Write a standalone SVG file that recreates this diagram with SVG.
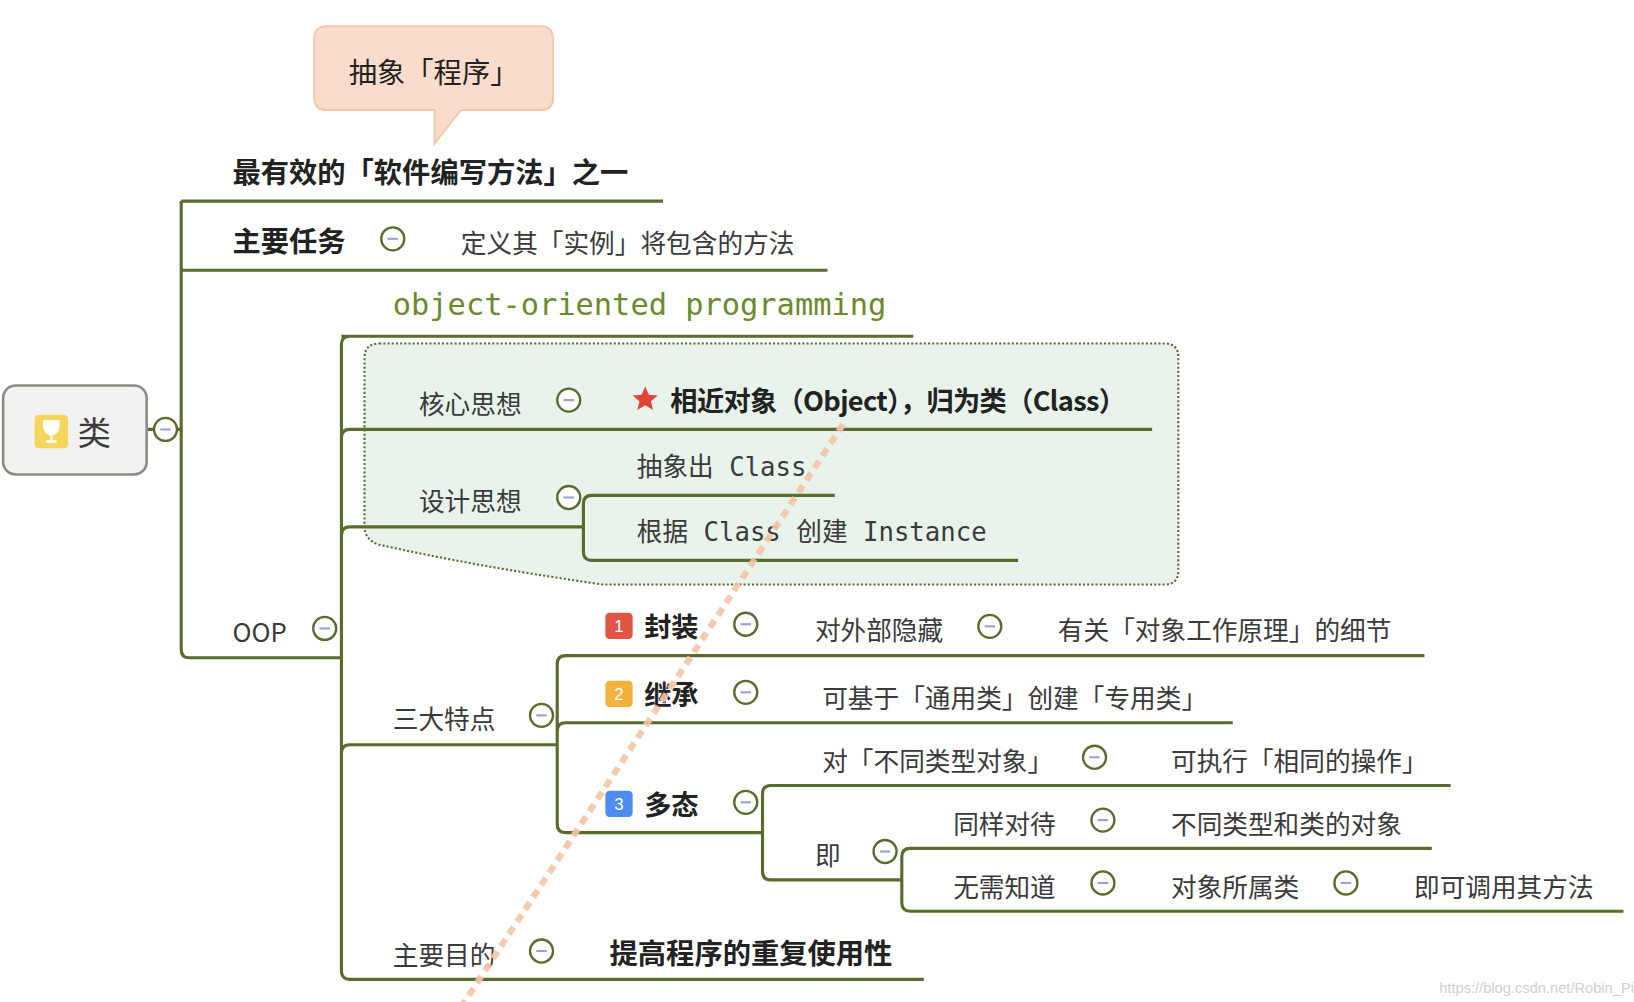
<svg xmlns="http://www.w3.org/2000/svg" width="1634" height="1002" viewBox="0 0 1634 1002">
<style>
.t{font-family:"Noto Sans CJK SC","Noto Sans",sans-serif;font-size:24.5px;fill:#3a3a3a;dominant-baseline:central}
.b{font-weight:bold;fill:#222;font-size:26px}
.m{font-family:"DejaVu Sans Mono","Liberation Mono","Noto Sans CJK SC",monospace;font-size:24.5px;fill:#3a3a3a;dominant-baseline:central}
.ln{fill:none;stroke:#5a6b2e;stroke-width:3}
.c{fill:#fff;stroke:#5a6b2e;stroke-width:2.2}
.mi{stroke:#9aa0d0;stroke-width:2}
.bd{font-family:"Liberation Sans",sans-serif;font-size:16px;fill:#fff;text-anchor:middle;dominant-baseline:central}
</style>
<defs>
<g id="col"><circle class="c" r="11"/><line class="mi" x1="-5" y1="0" x2="5" y2="0"/></g>
</defs>
<rect width="1634" height="1002" fill="#fff"/>
<g transform="scale(1.0474)">
<g id="boundary"><path d="M362,328 L1112,328 Q1125,328 1125,341 L1125,545 Q1125,558 1112,558 L575,558 Q450,540 362,520 Q348,516 348,502 L348,342 Q348,328 362,328 Z" fill="#e8f3ec" stroke="#5a6b2e" stroke-width="2" stroke-dasharray="2 2"/></g>
<g id="connectors">
<path class="ln" d="M173,192 H633 M173,258 H790 M173,192 V620 Q173,628 181,628 H326 M141,410 H147 M169,410 H173"/>
<path class="ln" d="M326,321 H872 M334,321 Q326,321 326,329 V927 Q326,935 334,935 H882 M326,418 Q326,410 334,410 H1100 M326,511 Q326,503 334,503 H557 M326,719 Q326,711 334,711 H532"/>
<path class="ln" d="M797,473 H565 Q557,473 557,481 V527 Q557,535 565,535 H972"/>
<path class="ln" d="M1360,626 H540 Q532,626 532,634 V787 Q532,795 540,795 H728 M532,698 Q532,690 540,690 H1177"/>
<path class="ln" d="M1385,750 H736 Q728,750 728,758 V832 Q728,840 736,840 H861"/>
<path class="ln" d="M1367,810 H869 Q861,810 861,818 V862 Q861,870 869,870 H1550"/>
</g>
<g id="callout"><path d="M312,25 H516 Q528,25 528,37 V93 Q528,105 516,105 H440 L415,137 L415,105 H312 Q300,105 300,93 V37 Q300,25 312,25 Z" fill="#f9dccb" stroke="#f3c9ab" stroke-width="2"/><text class="t" x="414" y="67" text-anchor="middle" style="font-size:27px;fill:#222">抽象「程序」</text></g>
<g id="root"><rect x="3" y="368" width="137" height="85" rx="12" fill="#f2f2f2" stroke="#8e8a85" stroke-width="2.5"/><rect x="33" y="396" width="32" height="32" rx="4" fill="#f5d55a"/><path d="M41,401 H57 V406 Q57,414 50,416 V420 H54 V423 H44 V420 H48 V416 Q41,414 41,406 Z" fill="#fff"/><text class="t" x="74" y="411" style="font-size:32px">类</text><use href="#col" x="158" y="410"/></g>
<g id="n1"><text class="t b" x="222" y="163" style="font-size:27px">最有效的「软件编写方法」之一</text></g>
<g id="n2"><text class="t b" x="222" y="229" style="font-size:27px">主要任务</text><use href="#col" x="375" y="228"/><text class="t" x="440" y="231">定义其「实例」将包含的方法</text></g>
<g id="oop"><text class="t" x="222" y="602">OOP</text><use href="#col" x="310" y="600"/><text class="m" x="375" y="291" style="fill:#6b8a2a;font-size:29px">object-oriented programming</text></g>
<g id="core"><text class="t" x="400" y="384">核心思想</text><use href="#col" x="543" y="382"/><path d="M616,369 L619.5,377 L628,377.5 L621.5,383 L623.5,391.5 L616,387 L608.5,391.5 L610.5,383 L604,377.5 L612.5,377 Z" fill="#e0453a"/><text class="t b" x="640" y="381" textLength="435">相近对象（Object），归为类（Class）</text></g>
<g id="design"><text class="t" x="400" y="477">设计思想</text><use href="#col" x="543" y="475"/><text class="m" x="608" y="446">抽象出 Class</text><text class="m" x="608" y="508">根据 Class 创建 Instance</text></g>
<g id="three"><text class="t" x="375" y="685">三大特点</text><use href="#col" x="517" y="683"/>
<rect x="578" y="585" width="26" height="25" rx="4" fill="#e05444"/><text class="bd" x="591" y="598">1</text><text class="t b" x="615" y="597">封装</text><use href="#col" x="712" y="596"/><text class="t" x="778" y="600">对外部隐藏</text><use href="#col" x="945" y="598"/><text class="t" x="1010" y="600">有关「对象工作原理」的细节</text>
<rect x="578" y="650" width="26" height="25" rx="4" fill="#f3b23c"/><text class="bd" x="591" y="663">2</text><text class="t b" x="615" y="662">继承</text><use href="#col" x="712" y="661"/><text class="t" x="785" y="665">可基于「通用类」创建「专用类」</text>
<rect x="578" y="755" width="26" height="25" rx="4" fill="#4f8cef"/><text class="bd" x="591" y="768">3</text><text class="t b" x="615" y="767">多态</text><use href="#col" x="712" y="766"/>
<text class="t" x="785" y="725">对「不同类型对象」</text><use href="#col" x="1045" y="723"/><text class="t" x="1118" y="725">可执行「相同的操作」</text>
<text class="t" x="778" y="815">即</text><use href="#col" x="845" y="813"/>
<text class="t" x="910" y="785">同样对待</text><use href="#col" x="1053" y="783"/><text class="t" x="1118" y="785">不同类型和类的对象</text>
<text class="t" x="910" y="845">无需知道</text><use href="#col" x="1053" y="843"/><text class="t" x="1118" y="845">对象所属类</text><use href="#col" x="1285" y="843"/><text class="t" x="1350" y="845">即可调用其方法</text></g>
<g id="goal"><text class="t" x="375" y="910">主要目的</text><use href="#col" x="517" y="908"/><text class="t b" x="582" y="908" style="font-size:27px">提高程序的重复使用性</text></g>
<line x1="805" y1="405" x2="440" y2="962" stroke="#f5c4a4" stroke-width="6" stroke-dasharray="8 6" opacity="0.9"/>
<text x="1560" y="948" text-anchor="end" font-family="Liberation Sans,sans-serif" font-size="14" fill="#d0d0d0">https://blog.csdn.net/Robin_Pi</text>
</g>
</svg>
